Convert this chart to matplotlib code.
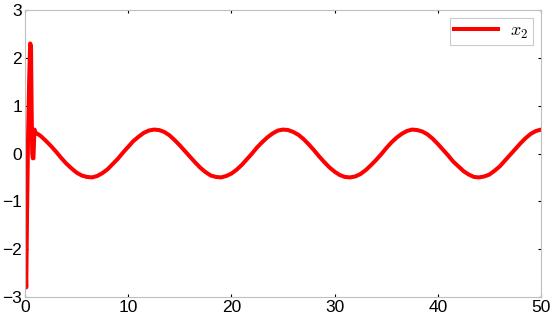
import matplotlib
matplotlib.use("Agg")
import matplotlib.pyplot as plt

plt.rcParams['font.family'] = ['Liberation Sans', 'DejaVu Sans']
plt.rcParams['mathtext.fontset'] = 'cm'

# transient part
t_trans = [0.0, 0.04, 0.08, 0.12, 0.2, 0.3, 0.4, 0.5, 0.58, 0.64, 0.7, 0.76, 0.82, 0.88, 0.92, 0.96]
x_trans = [0.1, -1.2, -2.5, -2.8, -1.2, 0.4, 1.5, 2.3, 2.25, 1.0, 0.0, -0.1, -0.1, 0.3, 0.5, 0.45]

# steady oscillation, sampled every 0.5 from 1 to 50
t_main = [1.0 + 0.5 * i for i in range(99)]
x_main = [0.44, 0.37, 0.27, 0.16, 0.04, -0.09, -0.21, -0.31, -0.40, -0.46,
          -0.49, -0.50, -0.47, -0.41, -0.33, -0.22, -0.11, 0.02, 0.14, 0.26,
          0.35, 0.43, 0.48, 0.50, 0.49, 0.45, 0.38, 0.28, 0.17, 0.05,
          -0.07, -0.19, -0.30, -0.39, -0.46, -0.49, -0.50, -0.47, -0.42, -0.34,
          -0.24, -0.12, 0.00, 0.13, 0.24, 0.34, 0.42, 0.48, 0.50, 0.49,
          0.45, 0.39, 0.30, 0.19, 0.07, -0.06, -0.18, -0.29, -0.38, -0.45,
          -0.49, -0.50, -0.48, -0.43, -0.35, -0.25, -0.14, -0.02, 0.11, 0.23,
          0.33, 0.41, 0.47, 0.50, 0.49, 0.46, 0.40, 0.31, 0.20, 0.08,
          -0.04, -0.17, -0.27, -0.37, -0.44, -0.49, -0.50, -0.48, -0.44, -0.36,
          -0.27, -0.15, -0.03, 0.09, 0.21, 0.32, 0.41, 0.47, 0.50]

t = t_trans + t_main
x2 = x_trans + x_main

xticks = [0, 10, 20, 30, 40, 50]
yticks = [-3, -2, -1, 0, 1, 2, 3]

fig = plt.figure(figsize=(5.5, 3.21), dpi=100)
ax = fig.add_axes([25/550, 1 - 297/321, (541 - 25)/550, (297 - 10)/321])
ax.plot(t, x2, color='#ff0000', linewidth=2.9, label=r'$x_2$', solid_joinstyle='round')
ax.set_xlim(0, 50)
ax.set_ylim(-3, 3)
ax.set_xticks(xticks)
ax.set_yticks(yticks)
ax.tick_params(direction='in', length=2.5, width=0.8, color='black', labelsize=12.5,
               top=True, right=True, pad=2)
for s in ax.spines.values():
    s.set_color('#bfbfbf')
    s.set_linewidth(0.8)

leg = ax.legend(loc='upper right', fontsize=13, frameon=True, fancybox=False,
                borderaxespad=0.45, handlelength=2.4, handletextpad=0.7,
                borderpad=0.25)
leg.get_frame().set_edgecolor('#bfbfbf')
leg.get_frame().set_linewidth(0.8)

fig.savefig('out.png', dpi=100)
